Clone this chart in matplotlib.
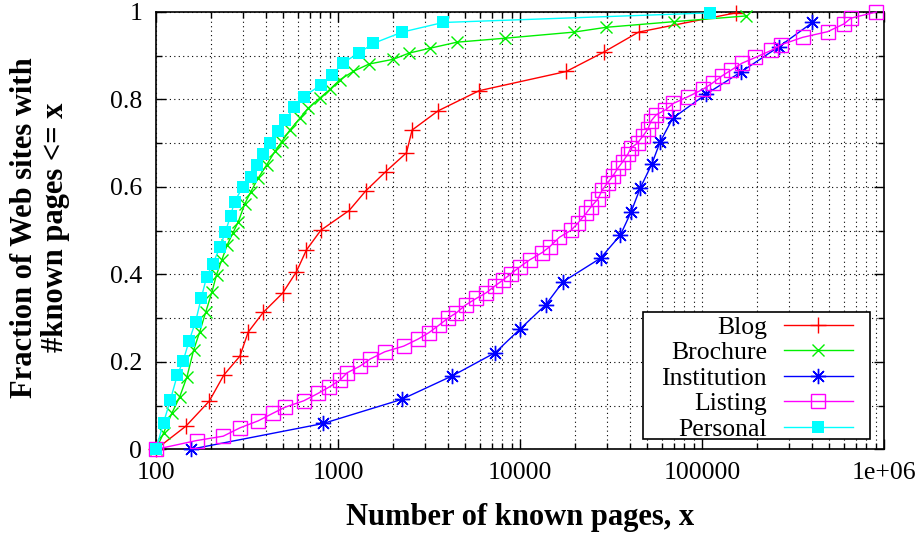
import matplotlib
matplotlib.use("Agg")
import matplotlib.pyplot as plt
from matplotlib.patches import Rectangle
from matplotlib.ticker import FixedLocator, LogLocator, MultipleLocator, NullFormatter

plt.rcParams['font.family'] = ['Liberation Serif', 'DejaVu Serif']

# CDF of known pages per site
blog_x = [100, 146, 196, 236, 289, 321, 388, 496, 591, 671, 805, 1151, 1421, 1829,
          2378, 2553, 3548, 5960, 17950, 28770, 44800, 153000]
blog_y = [0, 0.053, 0.110, 0.170, 0.213, 0.268, 0.313, 0.357, 0.406, 0.456, 0.501,
          0.546, 0.591, 0.635, 0.678, 0.730, 0.774, 0.820, 0.864, 0.908, 0.954, 0.998]

brochure_x = [100, 110, 122, 135, 148, 161, 174, 188, 203, 215, 230, 246, 264, 283,
              308, 332, 364, 405, 450, 490, 544, 617, 685, 794, 902, 1024, 1211, 1480,
              2018, 2455, 3191, 4506, 8241, 19770, 29740, 70560, 175000]
brochure_y = [0, 0.037, 0.082, 0.120, 0.166, 0.227, 0.269, 0.315, 0.360, 0.399, 0.433,
              0.467, 0.494, 0.520, 0.562, 0.589, 0.620, 0.650, 0.681, 0.703, 0.730,
              0.757, 0.780, 0.803, 0.823, 0.845, 0.864, 0.881, 0.892, 0.906, 0.917,
              0.931, 0.940, 0.954, 0.965, 0.978, 0.991]

institution_x = [155, 828, 2234, 4246, 7310, 9950, 13820, 17220, 27690, 35620, 40800,
                 45740, 52960, 58880, 69050, 105200, 163900, 265400, 404600]
institution_y = [0, 0.059, 0.114, 0.168, 0.221, 0.274, 0.330, 0.383, 0.437, 0.490,
                 0.543, 0.597, 0.652, 0.703, 0.757, 0.812, 0.863, 0.921, 0.976]

listing_x = [100, 167, 234, 289, 364, 437, 510, 649, 778, 891, 1024, 1122, 1319, 1496,
             1808, 2297, 2754, 3165, 3590, 4021, 4469, 5025, 5750, 6527, 7254, 8058,
             8958, 10030, 11290, 13250, 14530, 16480, 19100, 20780, 23110, 24610,
             26770, 28290, 30390, 32390, 34510, 36740, 39160, 40480, 44380, 47300,
             50380, 52570, 56000, 62980, 69650, 83500, 101000, 114600, 128900, 144500,
             166000, 196500, 239500, 271700, 357000, 490000, 604000, 658000, 909000]
listing_y = [0, 0.020, 0.030, 0.049, 0.065, 0.082, 0.096, 0.111, 0.128, 0.142, 0.158,
             0.175, 0.190, 0.206, 0.223, 0.236, 0.252, 0.267, 0.284, 0.300, 0.312,
             0.330, 0.345, 0.358, 0.373, 0.387, 0.402, 0.418, 0.433, 0.450, 0.463,
             0.485, 0.501, 0.517, 0.540, 0.555, 0.572, 0.593, 0.610, 0.625, 0.643,
             0.658, 0.675, 0.688, 0.701, 0.716, 0.732, 0.751, 0.765, 0.776, 0.791,
             0.806, 0.823, 0.838, 0.854, 0.867, 0.883, 0.896, 0.912, 0.925, 0.942,
             0.955, 0.973, 0.986, 1.0]

personal_x = [100, 110, 120, 131, 141, 152, 165, 177, 190, 205, 225, 240, 257, 270,
              299, 331, 360, 385, 422, 469, 513, 575, 647, 802, 929, 1067, 1300, 1559,
              2249, 3776, 111000]
personal_y = [0, 0.061, 0.113, 0.170, 0.202, 0.248, 0.292, 0.345, 0.395, 0.424, 0.463,
              0.496, 0.534, 0.566, 0.599, 0.623, 0.650, 0.675, 0.701, 0.728, 0.753,
              0.782, 0.806, 0.833, 0.856, 0.884, 0.906, 0.928, 0.954, 0.976, 0.998]

x_ticks = [100, 1000, 10000, 100000, 1000000]
x_tick_labels = ['100', '1000', '10000', '100000', '1e+06']
y_ticks = [0, 0.2, 0.4, 0.6, 0.8, 1]
y_tick_labels = ['0', '0.2', '0.4', '0.6', '0.8', '1']

W, H = 923, 535
fig = plt.figure(figsize=(W / 100, H / 100), dpi=100)
ax = fig.add_axes([156 / W, (H - 449.3) / H, (884 - 156) / W, (449.3 - 12) / H])

series = [
    ('Blog', blog_x, blog_y, '#ff0000', dict(marker='+', ms=11, mew=1.0)),
    ('Brochure', brochure_x, brochure_y, '#00f000', dict(marker='x', ms=9, mew=1.0)),
    ('Institution', institution_x, institution_y, '#0000ff', dict(marker=(8, 2, 0), ms=11, mew=1.0)),
    ('Listing', listing_x, listing_y, '#ff00ff', dict(marker='s', ms=10, mew=1.0, mfc='none')),
    ('Personal', personal_x, personal_y, '#00ffff', dict(marker='s', ms=9, mew=0)),
]
for name, xs, ys, col, mk in series:
    ax.plot(xs, ys, color=col, lw=1.0, label=name, clip_on=False, zorder=3, **mk)

ax.set_xscale('log')
ax.set_xlim(100, 1e6)
ax.set_ylim(0, 1)
ax.xaxis.set_major_locator(FixedLocator(x_ticks))
ax.set_xticklabels(x_tick_labels)
ax.xaxis.set_minor_locator(LogLocator(base=10, subs=range(2, 10)))
ax.xaxis.set_minor_formatter(NullFormatter())
ax.set_yticks(y_ticks)
ax.set_yticklabels(y_tick_labels)
ax.yaxis.set_minor_locator(MultipleLocator(0.1))

ax.tick_params(which='both', direction='in', top=True, right=True, labelsize=18.5, width=1.0)
ax.tick_params(which='major', length=7)
ax.tick_params(which='minor', length=4)
ax.tick_params(axis='x', pad=9)
ax.tick_params(axis='y', pad=10)
for s in ax.spines.values():
    s.set_linewidth(1.2)

ax.grid(True, which='both', color='black', lw=0.8, ls=(0, (1, 3)))
ax.set_axisbelow(True)

fig.text(40 / W, 0.575, 'Fraction of Web sites with\n#known pages <= x', rotation=90,
         ha='center', va='center', ma='center', fontsize=22, fontweight='bold',
         linespacing=1.05)
fig.text(520 / W, 1 - 517 / H, 'Number of known pages, x', ha='center', va='center',
         fontsize=22, fontweight='bold')

# gnuplot-style key: wide box, tight rows
key_box = Rectangle((643 / W, 1 - 439 / H), (870 - 643) / W, (439 - 312) / H,
                    transform=fig.transFigure, facecolor='white', edgecolor='black',
                    lw=1.2, zorder=4.5, clip_on=False)
ax.add_patch(key_box)
leg = ax.legend(loc='lower right', bbox_to_anchor=(853 / W, 1 - 441 / H),
                bbox_transform=fig.transFigure, borderaxespad=0, borderpad=0,
                fontsize=18.5, markerfirst=False, handlelength=2.7, handletextpad=0.65,
                labelspacing=0.1, frameon=False)

fig.savefig('out.png', dpi=100)
